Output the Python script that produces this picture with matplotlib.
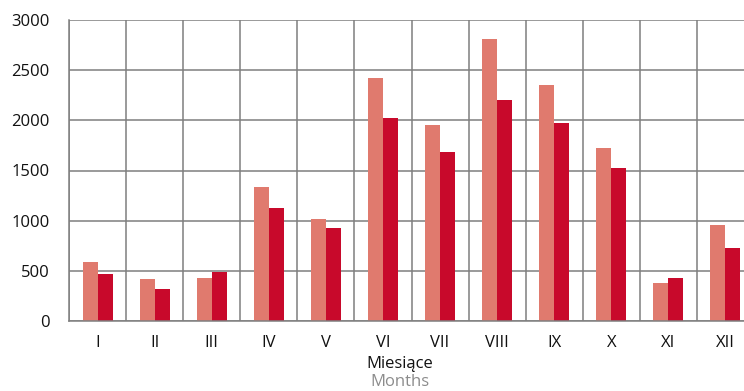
import numpy as np
import matplotlib.pyplot as plt

months = ['I', 'II', 'III', 'IV', 'V', 'VI', 'VII', 'VIII', 'IX', 'X', 'XI', 'XII']
series_a = [590, 420, 430, 1340, 1020, 2420, 1950, 2810, 2355, 1725, 380, 960]
series_b = [470, 320, 490, 1130, 930, 2025, 1680, 2205, 1975, 1525, 430, 730]

plt.rcParams['font.family'] = ['Open Sans', 'DejaVu Sans']

fig = plt.figure(figsize=(7.44, 3.91), dpi=100)
# the plot area runs a little past the right edge of the picture
ax = fig.add_axes([69 / 744, 1 - 321 / 391, 685 / 744, 301 / 391])

x = np.arange(len(months))
w = 0.263
ax.bar(x - w / 2, series_a, width=w, color='#E07A6E', zorder=3)
ax.bar(x + w / 2, series_b, width=w, color='#C8092B', zorder=3)

ax.set_xlim(-0.5, len(months) - 0.5)
ax.set_ylim(0, 3000)
ax.set_yticks(range(0, 3001, 500))
ax.set_xticks(x)
ax.set_xticklabels(months)
ax.set_xticks(np.arange(-0.5, len(months), 1), minor=True)

grid_c = '#7f7f7f'
ax.grid(axis='y', which='major', color=grid_c, linewidth=1.1, zorder=0)
ax.grid(axis='x', which='minor', color=grid_c, linewidth=1.1, zorder=0)
ax.grid(axis='x', which='major', visible=False)
for s in ['top', 'right']:
    ax.spines[s].set_visible(False)
ax.spines['left'].set_color(grid_c)
ax.spines['bottom'].set_color(grid_c)
ax.spines['left'].set_linewidth(1.1)
ax.spines['bottom'].set_linewidth(1.1)
ax.spines['bottom'].set_zorder(4)

ax.tick_params(axis='both', which='both', length=0, labelsize=12, colors='#111111')
ax.tick_params(axis='y', pad=14)
ax.tick_params(axis='x', pad=10)

fig.text(400 / 744, 1 - 364 / 391, 'Miesiące', ha='center', va='center', fontsize=12, color='#111111')
fig.text(400 / 744, 1 - 382 / 391, 'Months', ha='center', va='center', fontsize=12, color='#8c8c8c')

fig.savefig('out.png', dpi=100)
